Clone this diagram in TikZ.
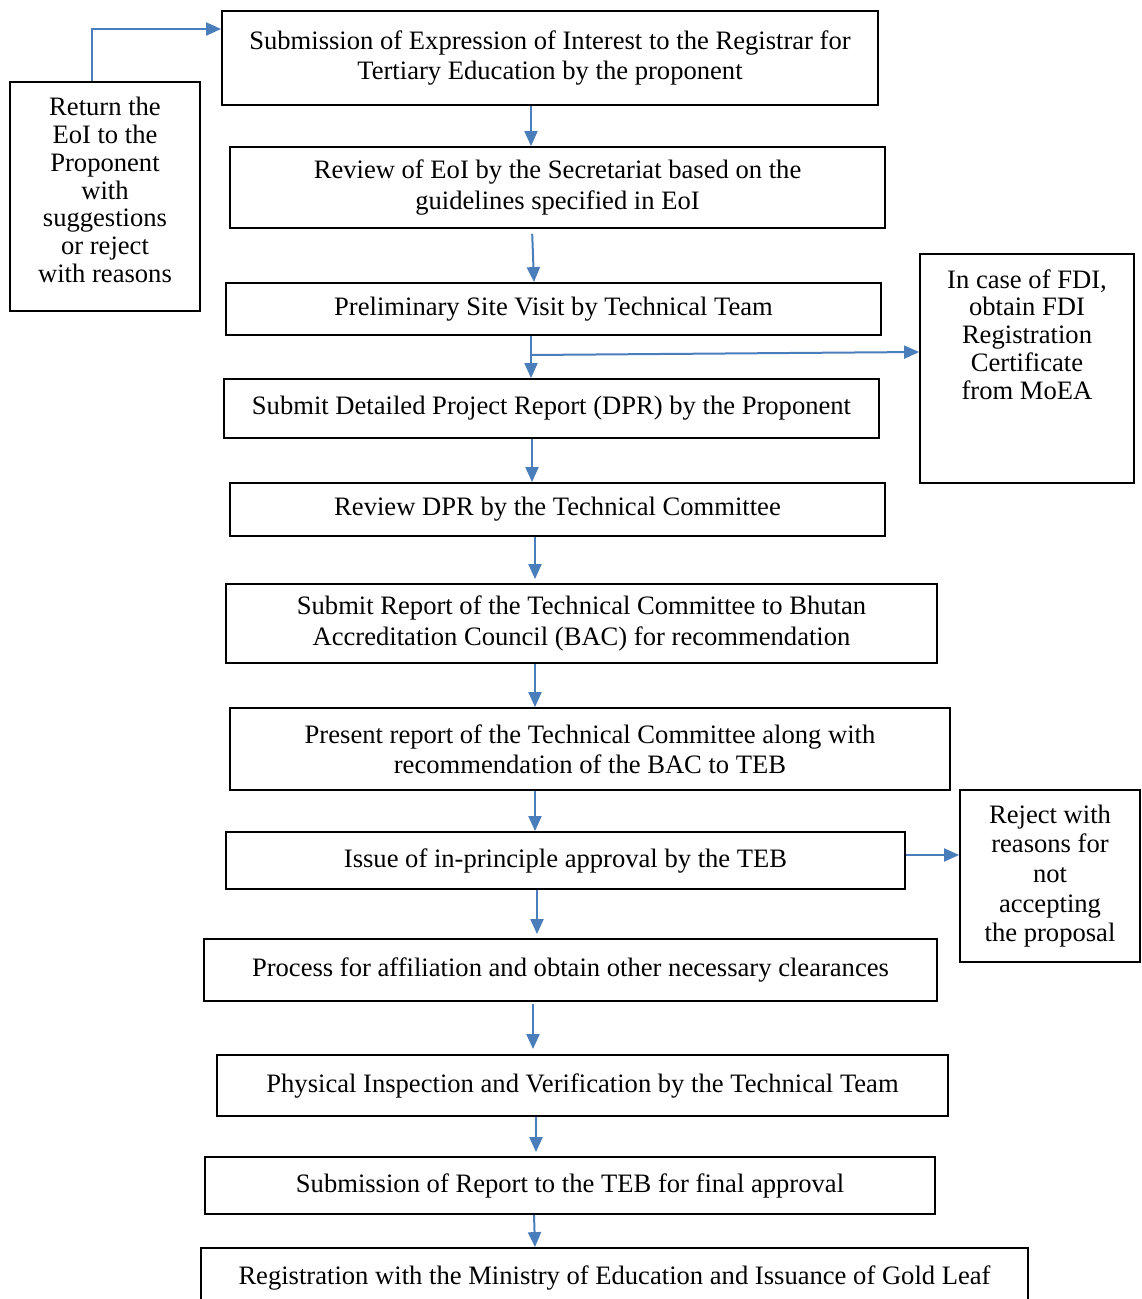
\documentclass[tikz,border=0pt]{standalone}
\usepackage{fontspec}
\setmainfont{Liberation Serif}
\usetikzlibrary{arrows.meta}
\definecolor{flowblue}{RGB}{74, 126, 187}

\begin{document}
\begin{tikzpicture}[x=0.5pt, y=-0.5pt,
    stepbox/.style={draw, line width=0.9pt, inner sep=0pt, align=center, font=\fontsize{13.3}{15.2}\selectfont},
    flow/.style={-{Triangle[length=7.5pt, width=6.5pt]}, line width=1pt, flowblue}]
        \useasboundingbox (0,0) rectangle (1141,1299);

        % Main steps
        \node[stepbox, minimum width=328pt, minimum height=47pt] (s1) at (550,58) {Submission of Expression of Interest to the Registrar for\\ Tertiary Education by the proponent};
        \node[stepbox, minimum width=327.5pt, minimum height=40.5pt] (s2) at (557.5,187.5) {Review of EoI by the Secretariat based on the\\ guidelines specified in EoI};
        \node[stepbox, minimum width=327.5pt, minimum height=26pt] (s3) at (553.5,309) {Preliminary Site Visit by Technical Team};
        \node[stepbox, minimum width=327.5pt, minimum height=29.5pt] (s4) at (551.5,408.5) {Submit Detailed Project Report (DPR) by the Proponent};
        \node[stepbox, minimum width=327.5pt, minimum height=26.5pt] (s5) at (557.5,509.5) {Review DPR by the Technical Committee};
        \node[stepbox, minimum width=355.5pt, minimum height=39.5pt] (s6) at (581.5,623.5) {Submit Report of the Technical Committee to Bhutan\\ Accreditation Council (BAC) for recommendation};
        \node[stepbox, minimum width=360pt, minimum height=41pt] (s7) at (590,749) {Present report of the Technical Committee along with\\ recommendation of the BAC to TEB};
        \node[stepbox, minimum width=339.5pt, minimum height=28.5pt] (s8) at (565.5,860.5) {Issue of in-principle approval by the TEB};
        \node[stepbox, minimum width=366.5pt, minimum height=31pt] (s9) at (570.5,970) {Process for affiliation and obtain other necessary clearances};
        \node[stepbox, minimum width=365.5pt, minimum height=30.5pt] (s10) at (582.5,1085.5) {Physical Inspection and Verification by the Technical Team};
        \node[stepbox, minimum width=365pt, minimum height=28.5pt] (s11) at (570,1185.5) {Submission of Report to the TEB for final approval};
        \node[stepbox, minimum width=413.5pt, minimum height=30pt] (s12) at (614.5,1278) {Registration with the Ministry of Education and Issuance of Gold Leaf};

        % Side boxes
        \node[stepbox, minimum width=95pt, minimum height=114.5pt] (ret) at (105,196.5) {\parbox[c][108pt][t]{92pt}{\centering\fontsize{13.3}{13.85}\selectfont\vspace*{4.5pt}Return the\\ EoI to the\\ Proponent\\ with\\ suggestions\\ or reject\\ with reasons}};
        \node[stepbox, minimum width=107pt, minimum height=114.5pt] (fdi) at (1027,368.5) {\parbox[c][108pt][t]{104pt}{\centering\fontsize{13.3}{13.85}\selectfont\vspace*{4.5pt}In case of FDI,\\ obtain FDI\\ Registration\\ Certificate\\ from MoEA}};
        \node[stepbox, minimum width=90pt, minimum height=86pt, font=\fontsize{13.3}{14.85}\selectfont] (rej) at (1050,876) {Reject with\\ reasons for\\ not\\ accepting\\ the proposal};

        % Arrows
        \draw[flow] (s1.south -| 531,0) -- (s2.north -| 531,0);
        \draw[flow, shorten <=2.5pt] (s2.south -| 532,0) -- (s3.north -| 534,0);
        \draw[flow] (s3.south -| 531,0) -- (s4.north -| 531,0);
        \draw[flow] (s4.south -| 532,0) -- (s5.north -| 532,0);
        \draw[flow, shorten >=2pt] (s5.south -| 535,0) -- (s6.north -| 535,0);
        \draw[flow] (s6.south -| 535,0) -- (s7.north -| 535,0);
        \draw[flow] (s7.south -| 535,0) -- (s8.north -| 535,0);
        \draw[flow, shorten >=2pt] (s8.south -| 537,0) -- (s9.north -| 537,0);
        \draw[flow, shorten <=1pt, shorten >=2.5pt] (s9.south -| 533,0) -- (s10.north -| 533,0);
        \draw[flow, shorten >=2pt] (s10.south -| 536,0) -- (s11.north -| 536,0);
        \draw[flow] (s11.south -| 534,0) -- (s12.north -| 535,0);

        % Branches
        \coordinate (br) at (531,355);
        \draw[flow] (br) -- (fdi.west |- 0,352);
        \draw[flow] (s8.east |- 0,855) -- (rej.west |- 0,855);
        \draw[flow] (ret.north -| 92,0) |- (s1.west |- 0,29);
    \end{tikzpicture}
\end{document}
